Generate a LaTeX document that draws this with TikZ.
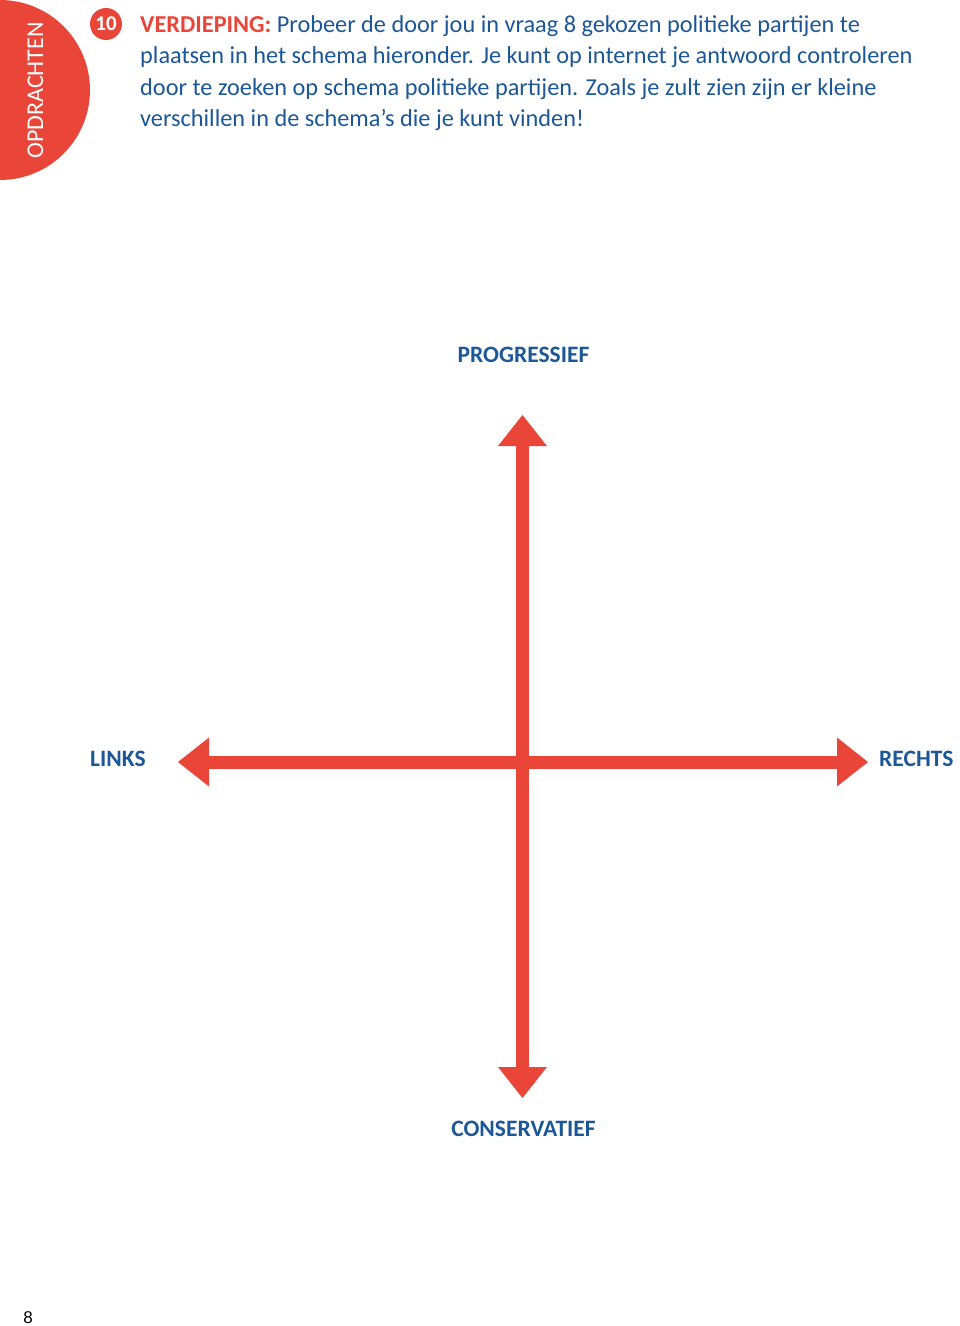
\documentclass[tikz,border=0pt]{standalone}
\usepackage{fontspec}
\setmainfont{Carlito}
\newfontfamily\arialfont{Liberation Sans}
\usetikzlibrary{arrows.meta}
\definecolor{rood}{HTML}{E94539}
\definecolor{blauw}{HTML}{1C5797}
\tikzset{
  axis/.style={draw=rood, line width=13pt, {Triangle[width=49pt,length=31pt,line width=0pt]}-{Triangle[width=49pt,length=31pt,line width=0pt]}},
  axlabel/.style={text=blauw, font=\fontsize{23.5}{26}\selectfont\bfseries, inner sep=0pt, anchor=base},
  qline/.style={anchor=base west, inner sep=0pt, text=blauw, font=\fontsize{24.3}{28}\selectfont},
}
\begin{document}
\begin{tikzpicture}[x=1pt,y=-1pt]
\useasboundingbox (0,0) rectangle (960,1326);
% side tab
\begin{scope}
\clip (0,0) rectangle (100,190);
\fill[rood] (0,90) circle (90);
\end{scope}
\node[text=white, font=\fontsize{24}{26}\selectfont, rotate=90, inner sep=0pt] (tab) at (35.5,90.5) {OPDRACHTEN};
% badge
\node[circle, fill=rood, minimum size=32pt, inner sep=0pt, text=white, font=\fontsize{21}{24}\selectfont\bfseries] (badge) at (106,24) {10};
% question text
\node[qline] (q1) at (140,32) {\textcolor{rood}{\bfseries VERDIEPING:} Probeer de door jou in vraag 8 gekozen politieke partijen te};
\node[qline] (q2) at (140,63.5) {plaatsen in het schema hieronder. Je kunt op internet je antwoord controleren};
\node[qline] (q3) at (140,95) {door te zoeken op schema politieke partijen. Zoals je zult zien zijn er kleine};
\node[qline] (q4) at (140,126.5) {verschillen in de schema’s die je kunt vinden!};
% axes
\coordinate (top) at (522.5,415);
\coordinate (bot) at (522.5,1098);
\coordinate (lft) at (178,762);
\coordinate (rgt) at (868,762);
\draw[axis] (bot) -- (top);
\draw[axis] (lft) -- (rgt);
% labels
\node[axlabel] (prog) at (523.5,362) {PROGRESSIEF};
\node[axlabel] (cons) at (523.5,1136) {CONSERVATIEF};
\node[axlabel, anchor=base west] (links) at (90,766) {LINKS};
\node[axlabel, anchor=base west] (rechts) at (879,766) {RECHTS};
% page number
\node[font=\arialfont\fontsize{17}{20}\selectfont, anchor=base, inner sep=0pt] (page) at (28,1323.5) {8};
\end{tikzpicture}
\end{document}
